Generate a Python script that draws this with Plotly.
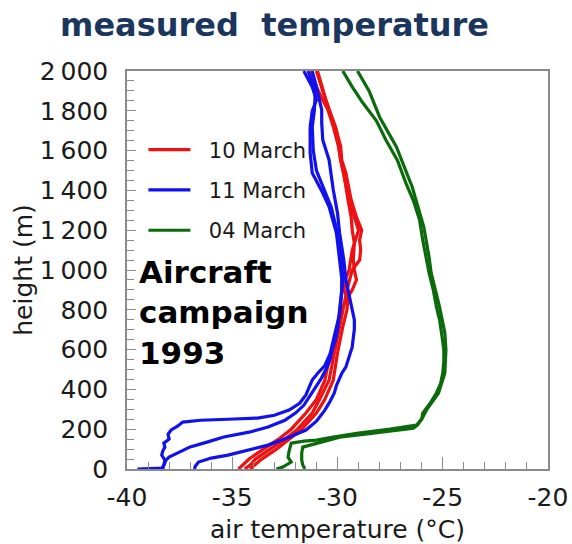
import plotly.graph_objects as go

# ---------------- data ----------------
# 10 March (red), three soundings
red_a_h = [0, 20, 50, 80, 100, 130, 150, 200, 246, 281, 350, 400, 447, 500, 583, 650, 714, 760, 800, 850, 900, 950, 1000, 1050, 1100, 1135, 1200, 1266, 1352, 1420, 1487, 1553, 1620, 1720, 1804, 1854, 1920, 2000]
red_a_t = [-34.7, -34.5, -34.2, -33.8, -33.5, -33.1, -32.8, -32.2, -31.8, -31.5, -31.0, -30.8, -30.6, -30.5, -30.3, -30.15, -30.0, -29.85, -29.8, -29.6, -29.3, -29.1, -29.2, -29.25, -29.2, -29.2, -29.3, -29.35, -29.5, -29.6, -29.7, -29.85, -29.95, -30.2, -30.45, -30.7, -31.0, -31.25]
red_b_h = [0, 25, 50, 100, 150, 200, 281, 350, 447, 583, 714, 800, 900, 1000, 1050, 1100, 1150, 1200, 1266, 1352, 1487, 1553, 1620, 1720, 1804, 1900, 2000]
red_b_t = [-34.4, -34.1, -33.9, -33.2, -32.5, -31.9, -31.2, -30.85, -30.4, -30.15, -29.9, -29.75, -29.55, -29.3, -28.95, -28.9, -28.95, -28.85, -29.1, -29.35, -29.6, -29.8, -29.85, -30.1, -30.4, -30.7, -31.0]
red_c_h = [0, 30, 50, 100, 150, 200, 281, 350, 447, 583, 714, 800, 850, 900, 960, 1000, 1100, 1200, 1300, 1400, 1553, 1700, 1854, 2000]
red_c_t = [-34.15, -33.8, -33.6, -32.9, -32.3, -31.7, -31.0, -30.6, -30.2, -30.0, -29.75, -29.55, -29.5, -29.7, -29.6, -29.45, -29.3, -29.0, -29.3, -29.55, -29.85, -30.05, -30.55, -30.95]

# 11 March (blue), three soundings
blue_a_h = [0, 2, 5, 20, 45, 70, 90, 110, 130, 150, 175, 196, 215, 236, 245, 250, 256, 270, 296, 330, 372, 410, 447, 480, 520, 580, 650, 720, 780, 830, 880, 960, 1050, 1186, 1317, 1387, 1487, 1588, 1718, 1800, 1854, 1920, 2000]
blue_a_t = [-39.5, -39.2, -38.3, -38.25, -38.2, -38.35, -38.3, -38.2, -38.25, -38.0, -38.05, -37.9, -37.6, -37.35, -36.5, -35.2, -33.8, -33.0, -32.3, -31.8, -31.5, -31.35, -31.2, -30.95, -30.6, -30.35, -30.2, -30.05, -29.9, -29.85, -29.8, -29.8, -29.9, -30.05, -30.4, -30.7, -31.2, -31.3, -31.3, -31.2, -31.0, -31.2, -31.6]
blue_b_h = [0, 10, 30, 45, 60, 80, 111, 135, 161, 185, 211, 245, 281, 320, 362, 410, 450, 500, 550, 600, 650, 700, 750, 820, 880, 950, 1050, 1186, 1317, 1400, 1500, 1600, 1720, 1800, 1900, 2000]
blue_b_t = [-38.3, -38.3, -38.2, -38.15, -38.0, -37.6, -37.0, -36.2, -35.4, -34.2, -33.3, -32.5, -32.0, -31.6, -31.35, -31.05, -30.8, -30.55, -30.35, -30.25, -30.1, -30.0, -29.95, -29.85, -29.8, -29.75, -29.8, -30.0, -30.3, -30.6, -31.0, -31.15, -31.2, -31.1, -31.05, -31.4]
blue_c_h = [0, 15, 35, 55, 70, 95, 120, 160, 196, 240, 296, 340, 382, 420, 447, 480, 513, 560, 613, 660, 700, 749, 800, 850, 900, 950, 1000, 1050, 1186, 1286, 1402, 1553, 1653, 1739, 1804, 1854, 1920, 2000]
blue_c_t = [-36.8, -36.75, -36.6, -36.0, -35.2, -34.2, -33.3, -32.3, -31.5, -31.0, -30.6, -30.35, -30.15, -30.05, -29.95, -29.8, -29.6, -29.45, -29.3, -29.25, -29.2, -29.2, -29.3, -29.4, -29.5, -29.6, -29.65, -29.7, -29.9, -30.0, -30.2, -30.4, -30.7, -30.75, -30.75, -30.85, -31.0, -31.2]

# 04 March (green), two soundings
green_a_h = [0, 10, 35, 60, 90, 110, 130, 140, 145, 160, 180, 200, 221, 250, 281, 330, 382, 430, 482, 540, 598, 640, 683, 750, 814, 900, 985, 1065, 1150, 1251, 1350, 1437, 1550, 1653, 1750, 1840, 1920, 2000]
green_a_t = [-32.9, -32.6, -32.2, -32.35, -32.3, -32.25, -32.2, -31.6, -31.0, -30.2, -29.0, -27.5, -26.25, -26.0, -25.95, -25.6, -25.3, -25.1, -25.0, -24.95, -24.95, -25.0, -25.05, -25.15, -25.3, -25.45, -25.65, -25.8, -25.95, -26.1, -26.4, -26.75, -27.15, -27.7, -28.15, -28.8, -29.3, -29.75]
green_b_h = [0, 20, 45, 80, 110, 120, 140, 160, 180, 196, 205, 221, 260, 300, 382, 482, 598, 683, 814, 985, 1065, 1216, 1417, 1618, 1769, 1900, 2000]
green_b_t = [-31.55, -31.65, -31.7, -31.7, -31.65, -31.3, -30.6, -29.9, -28.3, -27.0, -26.4, -26.2, -25.95, -25.75, -25.2, -24.9, -24.85, -24.9, -25.15, -25.55, -25.65, -25.9, -26.45, -27.2, -28.0, -28.5, -29.05]

series = [
    ("10 March", "#ee1111", [(red_a_t, red_a_h), (red_b_t, red_b_h), (red_c_t, red_c_h)]),
    ("11 March", "#1111ee", [(blue_a_t, blue_a_h), (blue_b_t, blue_b_h), (blue_c_t, blue_c_h)]),
    ("04 March", "#0b6b0b", [(green_a_t, green_a_h), (green_b_t, green_b_h)]),
]

x_ticks = [-40, -35, -30, -25, -20]
x_ticktext = ["-40", "-35", "-30", "-25", "-20"]
y_ticks = [0, 200, 400, 600, 800, 1000, 1200, 1400, 1600, 1800, 2000]
y_ticktext = ["0", "200", "400", "600", "800", "1\u2009000", "1\u2009200", "1\u2009400", "1\u2009600", "1\u2009800", "2\u2009000"]

FONT = "DejaVu Sans"

fig = go.Figure()
for name, color, profiles in series:
    for i, (t, h) in enumerate(profiles):
        fig.add_trace(go.Scatter(
            x=t, y=h, mode="lines", name="\u00a0\u00a0" + name, legendgroup=name,
            showlegend=(i == 0),
            line=dict(color=color, width=3.2),
        ))

axis_common = dict(
    showline=True, linecolor="#8a8a8a", linewidth=1.5, mirror=True,
    ticks="inside", tickcolor="#8a8a8a", tickwidth=1.3,
    showgrid=False, zeroline=False, automargin=False,
    tickfont=dict(family=FONT, size=25, color="#1a1a1a"),
    ticklabeloverflow="allow",
)

fig.update_xaxes(
    range=[-40, -20], tickvals=x_ticks, ticktext=x_ticktext, ticklen=12,
    minor=dict(dtick=1, ticks="inside", ticklen=7, tickcolor="#8a8a8a", tickwidth=1.2, showgrid=False),
    title=dict(text="air temperature (°C)", font=dict(family=FONT, size=25, color="#1a1a1a"), standoff=14),
    ticklabelstandoff=5,
    **axis_common,
)
fig.update_yaxes(
    range=[0, 2000], tickvals=y_ticks, ticktext=y_ticktext, ticklen=9,
    minor=dict(dtick=50, ticks="inside", ticklen=7, tickcolor="#8a8a8a", tickwidth=1.2, showgrid=False),
    title=dict(text="height (m)", font=dict(family=FONT, size=25, color="#1a1a1a"), standoff=0),
    ticklabelstandoff=12,
    **axis_common,
)

fig.add_annotation(
    text="<b>Aircraft<br>campaign<br>1993</b>",
    xref="paper", yref="paper", x=0.023, y=0.3925,
    xanchor="left", yanchor="middle", align="left", showarrow=False,
    font=dict(family=FONT, size=31, color="#000000"),
)

fig.update_layout(
    width=572, height=544,
    margin=dict(l=127, r=24, t=71, b=75),
    paper_bgcolor="white", plot_bgcolor="white",
    title=dict(
        text="<b>measured  temperature</b>",
        x=0.48, xref="container", xanchor="center",
        y=0.955, yref="container", yanchor="middle",
        font=dict(family=FONT, size=32, color="#1b365d"),
    ),
    legend=dict(
        x=0.039, y=0.853, xanchor="left", yanchor="top",
        bgcolor="rgba(0,0,0,0)", borderwidth=0,
        font=dict(family=FONT, size=21, color="#1a1a1a"),
        traceorder="grouped", tracegroupgap=10, itemwidth=42,
    ),
    showlegend=True,
)

fig.write_html("out.html")
